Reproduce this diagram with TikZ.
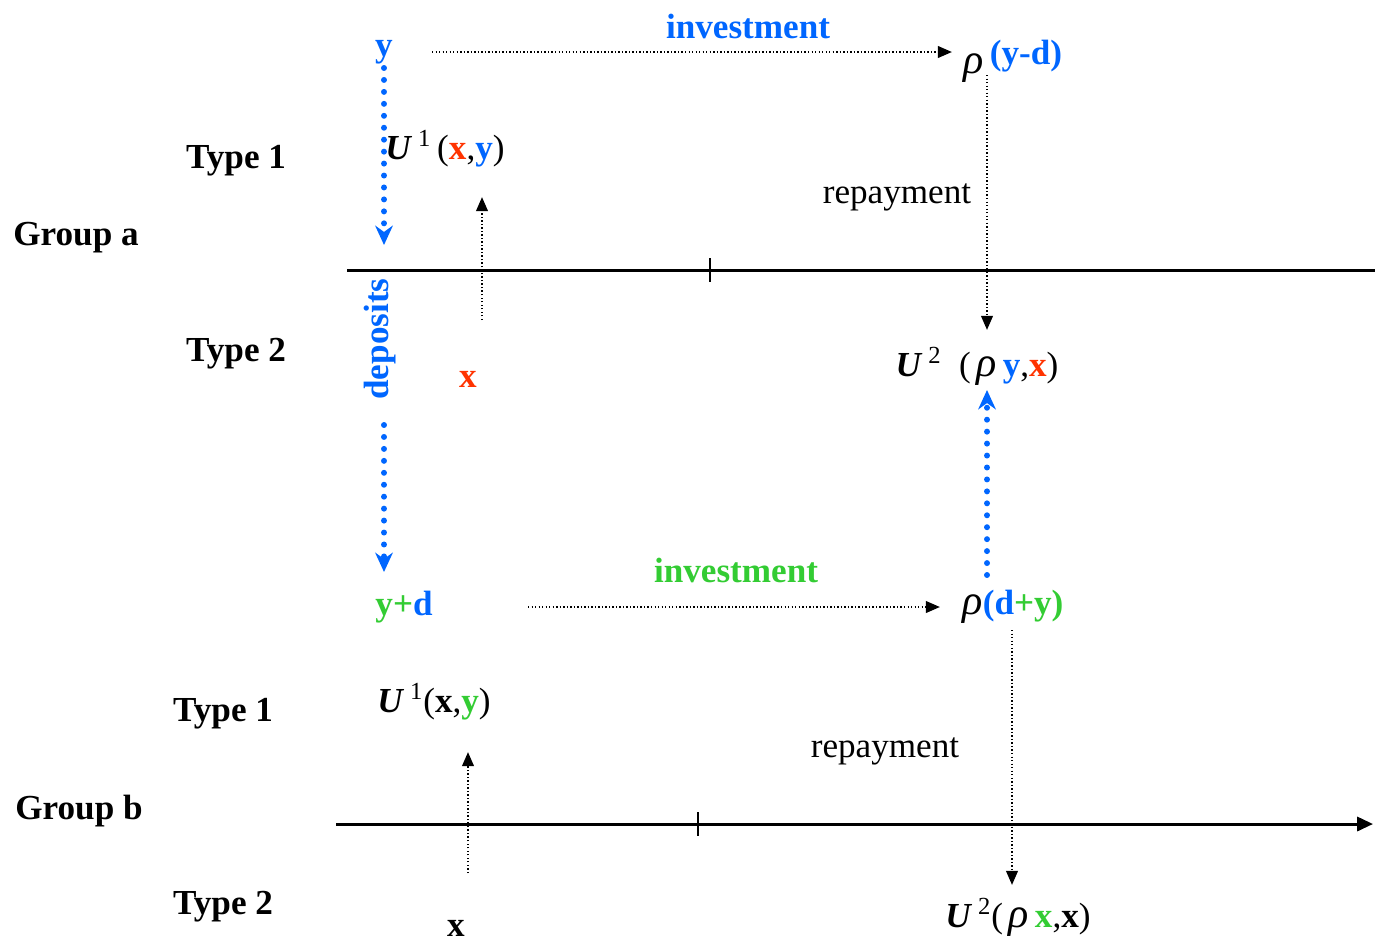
\documentclass[tikz,border=0pt]{standalone}
\usepackage{fontspec}
\setmainfont{Liberation Serif}
\usetikzlibrary{arrows.meta}
\definecolor{myblue}{RGB}{0,102,255}
\definecolor{myred}{RGB}{255,51,0}
\definecolor{mygreen}{RGB}{51,204,51}

\newcommand{\util}[1]{\textbf{\textit{U}}\,\textsuperscript{\mdseries #1}}
\newcommand{\rh}{{\fontsize{24}{24}\selectfont\textit{\mdseries ρ}}}

\tikzset{
  lbl/.style={inner sep=0pt, yshift=-2.3pt, font=\fontsize{20}{24}\selectfont\bfseries},
  txt/.style={inner sep=0pt, yshift=-2.3pt, font=\fontsize{20}{24}\selectfont},
  flow/.style={line width=1.4pt, dash pattern=on 0.8pt off 1.2pt, -{Triangle[length=8pt,width=6.5pt]}},
  bigflow/.style={myblue, line width=3.4pt, line cap=round, dash pattern=on 0pt off 6.8pt, -{Stealth[length=11pt,width=10pt]}},
  axis/.style={line width=1.7pt, -{Triangle[length=9pt,width=8pt]}},
  tickmark/.style={line width=0.6pt}
}

\begin{document}
\begin{tikzpicture}[x=0.02cm, y=-0.02cm]

% Frame
\useasboundingbox (0,0) rectangle (1375,944);
\clip (0,0) rectangle (1375,944);

% Group a
\node[lbl] (typea1) at (236,157) {Type 1};
\node[lbl] (groupa) at (76,234) {Group a};
\node[lbl] (typea2) at (236,350) {Type 2};

\node[lbl, text=myblue] (ya) at (384,48) {y};
\node[lbl, text=myblue] (inva) at (748,22) {investment};
\node[txt] (rhoa) at (1013,57) {\rh\,\raisebox{5pt}{\bfseries\color{myblue}(y-d)}};
\node[txt] (ua1) at (445,145) {\util{1}\,(\textbf{\color{myred}x},\textbf{\color{myblue}y})};
\node[txt] (repa) at (897,193) {repayment};
\node[lbl, text=myblue, rotate=90] (dep) at (380,335) {deposits};
\node[lbl, text=myred] (xa) at (468,375) {x};
\node[txt] (ua2) at (977,362) {\util{2}\ \ (\,\rh\,\textbf{\color{myblue}y},\textbf{\color{myred}x})};

% Group b
\node[lbl] (typeb1) at (223,710) {Type 1};
\node[lbl] (groupb) at (79,807) {Group b};
\node[lbl] (typeb2) at (223,903) {Type 2};

\node[lbl] (yb) at (404,603) {{\color{mygreen}y+}{\color{myblue}d}};
\node[lbl, text=mygreen] (invb) at (736,566) {investment};
\node[txt] (rhob) at (1013,603) {\rh\textbf{{\color{myblue}(d}{\color{mygreen}+y)}}};
\node[txt] (ub1) at (434,698) {\util{1}(\textbf{x},\textbf{\color{mygreen}y})};
\node[txt] (repb) at (885,747) {repayment};
\node[lbl] (xb) at (456,924) {x};
\node[txt] (ub2) at (1018,913) {\util{2}(\,\rh\,\textbf{\color{mygreen}x},\textbf{x})};

% Connector ends
\coordinate (ia1) at (432,52);   \coordinate (ia2) at (952,52);
\coordinate (ra1) at (987,75);   \coordinate (ra2) at (987,330);
\coordinate (ka1) at (482,320);  \coordinate (ka2) at (482,197);
\coordinate (da1) at (384,68);   \coordinate (da2) at (384,245);
\coordinate (db1) at (384,425);  \coordinate (db2) at (384,572);
\coordinate (ub1a) at (987,575); \coordinate (ub2a) at (987,390);
\coordinate (ib1) at (528,607);  \coordinate (ib2) at (940,607);
\coordinate (rb1) at (1012,630); \coordinate (rb2) at (1012,885);
\coordinate (kb1) at (468,873);  \coordinate (kb2) at (468,752);

% Time axes
\draw[axis] (347,270) -- (1392,270);
\draw[tickmark] (710,258) -- (710,282);
\draw[axis] (336,824) -- (1373,824);
\draw[tickmark] (698,812) -- (698,836);

% Flows
\draw[flow] (ia1) -- (ia2);
\draw[flow] (ra1) -- (ra2);
\draw[flow] (ka1) -- (ka2);
\draw[flow] (ib1) -- (ib2);
\draw[flow] (rb1) -- (rb2);
\draw[flow] (kb1) -- (kb2);

% Deposit transfers
\draw[bigflow] (da1) -- (da2);
\draw[bigflow] (db1) -- (db2);
\draw[bigflow] (ub1a) -- (ub2a);

\end{tikzpicture}
\end{document}
